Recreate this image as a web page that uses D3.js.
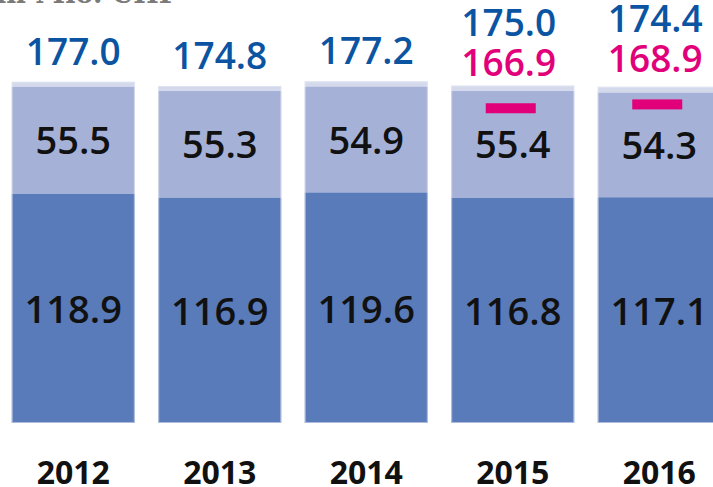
<!DOCTYPE html>
<html>
<head>
<meta charset="utf-8">
<script src="https://cdn.jsdelivr.net/npm/d3@7"></script>
<style>
  body { margin: 0; background: #fff; }
  svg { display: block; }
</style>
</head>
<body>
<svg class="chart" width="713" height="487"></svg>
<script>
var years = ["2012", "2013", "2014", "2015", "2016"];
var baseValues = [118.9, 116.9, 119.6, 116.8, 117.1];
var midValues = [55.5, 55.3, 54.9, 55.4, 54.3];
var totals = [177.0, 174.8, 177.2, 175.0, 174.4];
var budget = [null, null, null, 166.9, 168.9];

var colDark = "#5a7bb9",
    colMid = "#a6b1d8",
    colTop = "#d5d9ec",
    colBlue = "#0b54a2",
    colPink = "#e2007a";

var svg = d3.select(".chart"),
    width = +svg.attr("width"),
    height = +svg.attr("height");

var x = d3.scaleBand()
    .domain(years)
    .range([0, 732.5])
    .paddingInner(0.16)
    .paddingOuter(0.08);

var y = d3.scaleLinear()
    .domain([0, 180])
    .range([423, 76]);

var font = "'Open Sans', sans-serif";

// unit label, cut off at the top
svg.append("text")
    .attr("x", -4)
    .attr("y", 3)
    .style("font-family", "'DejaVu Serif', serif")
    .style("font-weight", "bold")
    .style("font-size", "27px")
    .style("fill", "#7a7a7a")
    .text("in Mio. CHF");

var rows = years.map(function(d, i) {
  return {year: d, base: baseValues[i], mid: midValues[i], total: totals[i], budget: budget[i]};
});

var g = svg.selectAll("g.bar")
    .data(rows)
    .enter().append("g")
    .attr("class", "bar");

// top sliver (rest up to total)
g.append("rect")
    .attr("x", function(d) { return x(d.year); })
    .attr("width", x.bandwidth())
    .attr("y", function(d) { return y(d.total); })
    .attr("height", function(d) { return y(d.base + d.mid) - y(d.total); })
    .style("fill", colTop);

g.append("rect")
    .attr("x", function(d) { return x(d.year); })
    .attr("width", x.bandwidth())
    .attr("y", function(d) { return y(d.base + d.mid); })
    .attr("height", function(d) { return y(d.base) - y(d.base + d.mid); })
    .style("fill", colMid);

g.append("rect")
    .attr("x", function(d) { return x(d.year); })
    .attr("width", x.bandwidth())
    .attr("y", function(d) { return y(d.base); })
    .attr("height", function(d) { return y(0) - y(d.base); })
    .style("fill", colDark);

// faint light outline
g.append("rect")
    .attr("x", function(d) { return x(d.year) + 0.5; })
    .attr("width", x.bandwidth() - 1)
    .attr("y", function(d) { return y(d.total) + 0.5; })
    .attr("height", function(d) { return y(0) - y(d.total) - 1; })
    .style("fill", "none")
    .style("stroke", "#e4e8f4")
    .style("stroke-opacity", 0.6);

// segment labels
g.append("text")
    .attr("x", function(d) { return x(d.year) + x.bandwidth() / 2; })
    .attr("y", function(d) { return (y(d.base) + y(0)) / 2 + 15; })
    .attr("text-anchor", "middle")
    .style("font-family", font)
    .style("font-weight", 600)
    .style("font-size", "38px")
    .style("fill", "#111")
    .text(function(d) { return d.base.toFixed(1); });

g.append("text")
    .attr("x", function(d) { return x(d.year) + x.bandwidth() / 2; })
    .attr("y", function(d) { return (y(d.base) + y(d.base + d.mid)) / 2 + 14; })
    .attr("text-anchor", "middle")
    .style("font-family", font)
    .style("font-weight", 600)
    .style("font-size", "38px")
    .style("fill", "#111")
    .text(function(d) { return d.mid.toFixed(1); });

// budget markers
var b = g.filter(function(d) { return d.budget != null; });

b.append("rect")
    .attr("x", function(d) { return x(d.year) + x.bandwidth() / 2 - 27; })
    .attr("width", 50)
    .attr("y", function(d) { return y(d.budget) + 2; })
    .attr("height", 10)
    .style("fill", colPink);

b.append("text")
    .attr("x", function(d) { return x(d.year) + x.bandwidth() / 2 - 4; })
    .attr("y", function(d) { return y(d.budget) - 25; })
    .attr("text-anchor", "middle")
    .style("font-family", font)
    .style("font-weight", 600)
    .style("font-size", "37px")
    .style("fill", colPink)
    .text(function(d) { return d.budget.toFixed(1); });

// totals
g.append("text")
    .attr("x", function(d) {
      return x(d.year) + x.bandwidth() / 2 - (d.budget != null ? 4 : 0);
    })
    .attr("y", function(d) {
      return d.budget != null ? y(d.budget) - 65 : y(d.total) - 17;
    })
    .attr("text-anchor", "middle")
    .style("font-family", font)
    .style("font-weight", 600)
    .style("font-size", "37px")
    .style("fill", colBlue)
    .text(function(d) { return d.total.toFixed(1); });

// year axis labels
var xAxis = svg.append("g")
    .attr("transform", "translate(0,484)")
    .call(d3.axisBottom(x).tickSize(0).tickPadding(0));
xAxis.select(".domain").remove();
xAxis.selectAll("text")
    .attr("dy", 0)
    .attr("y", 0)
    .style("font-family", font)
    .style("font-weight", 700)
    .style("font-size", "32px")
    .style("fill", "#111");
</script>
</body>
</html>
